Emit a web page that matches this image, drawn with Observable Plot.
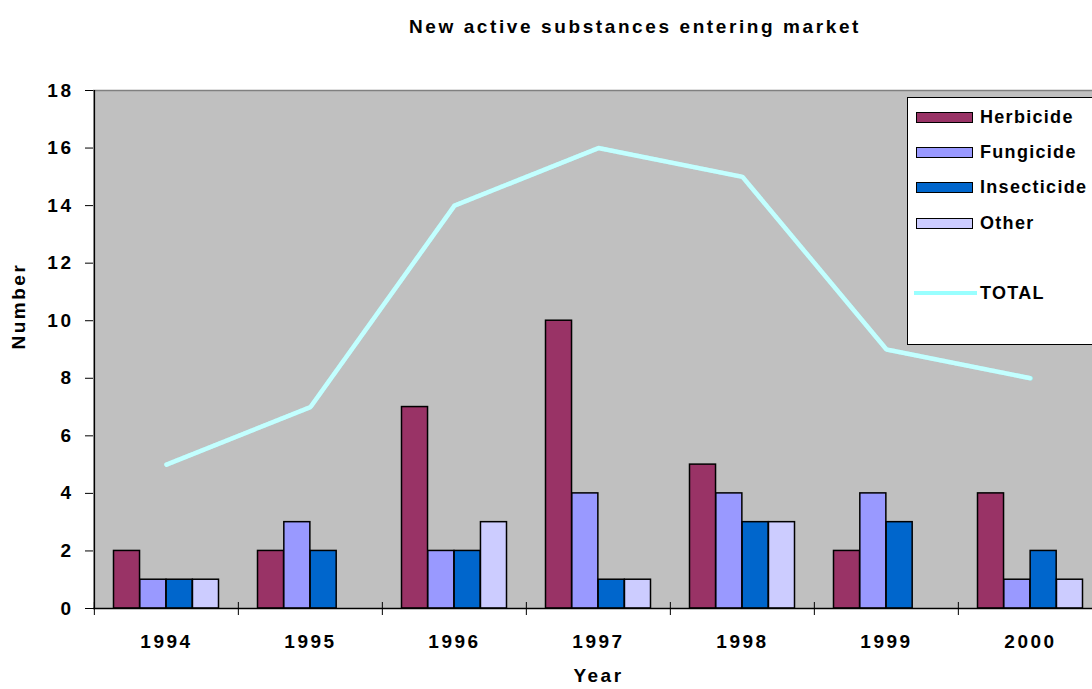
<!DOCTYPE html>
<html>
<head>
<meta charset="utf-8">
<script src="https://cdn.jsdelivr.net/npm/d3@7"></script>
<script src="https://cdn.jsdelivr.net/npm/@observablehq/plot@0.6"></script>
<style>
  body { margin: 0; background: #fff; overflow: hidden; }
  #chart { position: relative; width: 1092px; height: 689px; font-family: "Liberation Sans", Arial, sans-serif; font-weight: bold; color: #000; }
  #title { height: 50px; box-sizing: border-box; padding-left: 178px; text-align: center; font-size: 19px; letter-spacing: 2.6px; line-height: 54px; }
  #legend { position: absolute; left: 907px; top: 97px; width: 200px; height: 248px; background: #fff; border: 1.5px solid #000; box-sizing: border-box; }
  .row { position: absolute; left: 8px; height: 22px; display: flex; align-items: center; font-size: 18px; letter-spacing: 1.3px; white-space: nowrap; }
  .sw { width: 57px; height: 11px; border: 1.5px solid #000; box-sizing: border-box; margin-right: 7px; }
  .ln { width: 63px; height: 4px; margin-right: 3px; margin-left: -2px; }
  svg text { letter-spacing: 2.5px; }
</style>
</head>
<body>
<div id="chart">
  <div id="title">New active substances entering market</div>
  <div id="plot"></div>
  <div id="legend"></div>
</div>
<script>
// Yearly counts of new active substances, by type
const years = ["1994", "1995", "1996", "1997", "1998", "1999", "2000"];
const herbicide = [2, 2, 7, 10, 5, 2, 4];
const fungicide = [1, 3, 2, 4, 4, 4, 1];
const insecticide = [1, 2, 2, 1, 3, 3, 2];
const other = [1, 0, 3, 1, 3, 0, 1];
const total = [5, 7, 14, 16, 15, 9, 8];
const yTicks = [0, 2, 4, 6, 8, 10, 12, 14, 16, 18];

const series = [
  {name: "Herbicide", values: herbicide, color: "#993366"},
  {name: "Fungicide", values: fungicide, color: "#9999ff"},
  {name: "Insecticide", values: insecticide, color: "#0066cc"},
  {name: "Other", values: other, color: "#ccccff"}
];
const lineColor = "#99ffff";

// layout
const W = 1092, H = 639;
const mL = 93, mR = -11, mT = 40, mB = 81;
const bandW = (W - mL - mR) / years.length;
const groupPad = 19.5;
const barW = (bandW - 2 * groupPad) / series.length;

const barMarks = series.map((s, i) =>
  Plot.barY(
    years.map((y, j) => ({year: y, value: s.values[j]})).filter(d => d.value > 0),
    {
      x: "year", y: "value", fill: s.color, stroke: "#000", strokeWidth: 1.5,
      insetLeft: groupPad + i * barW,
      insetRight: bandW - groupPad - (i + 1) * barW
    }
  )
);

const totals = years.map((y, j) => ({year: y, total: total[j]}));

const chart = Plot.plot({
  width: W, height: H,
  marginLeft: mL, marginRight: mR, marginTop: mT, marginBottom: mB,
  x: {type: "band", domain: years, padding: 0, label: null},
  y: {domain: [0, 18], label: null},
  style: {fontFamily: "'Liberation Sans', Arial, sans-serif", fontSize: "19px", fontWeight: "bold", background: "transparent", overflow: "visible", color: "#000"},
  marks: [
    Plot.frame({fill: "#c0c0c0", stroke: null}),
    Plot.ruleY([18], {stroke: "#808080", strokeWidth: 1.5}),
    ...barMarks,
    Plot.line(totals, {x: "year", y: "total", stroke: lineColor, strokeWidth: 4.5, strokeLinejoin: "miter"}),
    Plot.line(totals, {x: "year", y: "total", stroke: "#e6ffff", strokeWidth: 4.5, strokeDasharray: "1.5,1.5", strokeOpacity: 0.55, strokeLinejoin: "miter"}),
    Plot.ruleY([0], {stroke: "#000", strokeWidth: 1.5}),
    Plot.ruleX([years[0]], {dx: -bandW / 2, stroke: "#000", strokeWidth: 1.5}),
    Plot.axisY({ticks: yTicks, tickSize: 8, tickPadding: 12, label: null}),
    Plot.axisX({tickSize: 13, dy: -6, dx: -bandW / 2, tickFormat: () => "", label: null}),
    Plot.axisX({tickSize: 0, tickPadding: 26, label: null}),
    Plot.text(["Number"], {text: d => d, frameAnchor: "left", rotate: -90, dx: -75}),
    Plot.text(["Year"], {text: d => d, frameAnchor: "bottom", dy: 73})
  ]
});
document.getElementById("plot").appendChild(chart);

// legend box
const legend = d3.select("#legend");
const rowTops = [8, 43, 78, 114];
series.forEach((s, i) => {
  const r = legend.append("div").attr("class", "row").style("top", rowTops[i] + "px");
  r.append("div").attr("class", "sw").style("background", s.color);
  r.append("span").text(s.name);
});
const tr = legend.append("div").attr("class", "row").style("top", "184px");
tr.append("div").attr("class", "ln").style("background", lineColor);
tr.append("span").text("TOTAL");
</script>
</body>
</html>
